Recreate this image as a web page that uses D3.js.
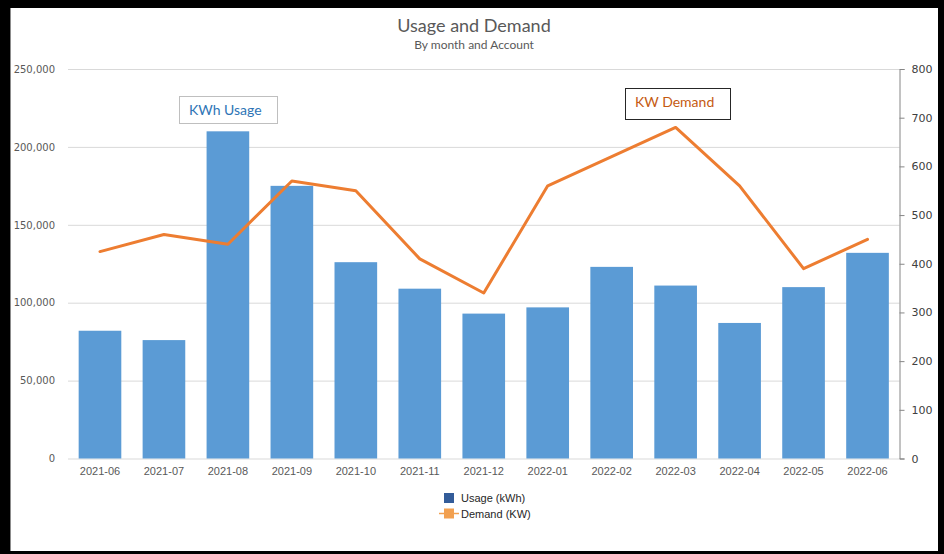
<!DOCTYPE html>
<html>
<head>
<meta charset="utf-8">
<script src="https://cdn.jsdelivr.net/npm/d3@7"></script>
<style>
  html, body { margin: 0; padding: 0; background: #000; }
  svg { display: block; }
</style>
</head>
<body>
<svg id="chart" width="944" height="554"></svg>
<script>
// Monthly usage (kWh, left axis) and peak demand (KW, right axis)
const months = ["2021-06","2021-07","2021-08","2021-09","2021-10","2021-11","2021-12",
                "2022-01","2022-02","2022-03","2022-04","2022-05","2022-06"];
const usage  = [82000, 76000, 210000, 175000, 126000, 109000, 93000,
                97000, 123000, 111000, 87000, 110000, 132000];
const demand = [425, 460, 440, 570, 550, 410, 340, 560, 620, 680, 560, 390, 450];
const usageTicks  = [0, 50000, 100000, 150000, 200000, 250000];
const demandTicks = [0, 100, 200, 300, 400, 500, 600, 700, 800];
const seriesNames = ["Usage (kWh)", "Demand (KW)"];

const svg = d3.select("#chart");
const W = 944, H = 554;

// white chart area inside the black frame
svg.append("rect").attr("x", 0).attr("y", 0).attr("width", W).attr("height", H).attr("fill", "#000");
svg.append("rect").attr("x", 10).attr("y", 8).attr("width", 928).attr("height", 543).attr("fill", "#fff");
svg.append("line").attr("x1", 10.5).attr("x2", 10.5).attr("y1", 8).attr("y2", 551)
  .attr("stroke", "#8c8c8c").attr("stroke-width", 1);

const plot = { left: 68, right: 899.5, top: 69, bottom: 458.5 };

const x = d3.scaleBand().domain(months).range([plot.left, plot.right])
  .paddingInner(1 / 3).paddingOuter(1 / 6);
const yL = d3.scaleLinear().domain([0, 250000]).range([plot.bottom, plot.top]);
const yR = d3.scaleLinear().domain([0, 800]).range([plot.bottom, plot.top]);

const labelFont = "'DejaVu Sans', Verdana, sans-serif";
const textGrey = "#595959";

// gridlines
svg.append("g")
  .attr("transform", `translate(${plot.left},0)`)
  .call(d3.axisLeft(yL).tickValues(usageTicks).tickSize(-(plot.right - plot.left)).tickFormat(""))
  .call(g => g.select(".domain").remove())
  .call(g => g.selectAll("line").attr("stroke", "#d9d9d9").attr("stroke-width", 1));

// left axis labels
svg.append("g")
  .attr("transform", `translate(${plot.left},0)`)
  .call(d3.axisLeft(yL).tickValues(usageTicks).tickSize(0).tickPadding(13).tickFormat(d3.format(",")))
  .call(g => g.select(".domain").remove())
  .call(g => g.selectAll("text").attr("fill", textGrey).style("font-family", labelFont).style("font-size", "10px"));

// bars
svg.append("g").selectAll("rect")
  .data(months)
  .join("rect")
  .attr("x", d => x(d))
  .attr("width", x.bandwidth())
  .attr("y", (d, i) => yL(usage[i]))
  .attr("height", (d, i) => yL(0) - yL(usage[i]))
  .attr("fill", "#5b9bd5");

// demand line
const line = d3.line()
  .x((d, i) => x(months[i]) + x.bandwidth() / 2)
  .y(d => yR(d));
svg.append("path")
  .datum(demand)
  .attr("d", line)
  .attr("fill", "none")
  .attr("stroke", "#ed7d31")
  .attr("stroke-width", 3)
  .attr("stroke-linejoin", "round")
  .attr("stroke-linecap", "round");

// right axis
svg.append("g")
  .attr("transform", `translate(${plot.right},0)`)
  .call(d3.axisRight(yR).tickValues(demandTicks).tickSize(5).tickSizeOuter(5).tickPadding(7))
  .call(g => g.select(".domain").attr("stroke", "#868686"))
  .call(g => g.selectAll(".tick line").attr("stroke", "#868686"))
  .call(g => g.selectAll("text").attr("fill", "#404040").style("font-family", labelFont).style("font-size", "11px"));

// category axis
svg.append("g")
  .attr("transform", `translate(0,${plot.bottom})`)
  .call(d3.axisBottom(x).tickSize(0).tickPadding(9))
  .call(g => g.select(".domain").remove())
  .call(g => g.selectAll("text").attr("fill", textGrey)
    .style("font-family", "'Liberation Sans', Arial, sans-serif").style("font-size", "11px"));

// titles
svg.append("text").attr("x", 474).attr("y", 32).attr("text-anchor", "middle")
  .attr("fill", textGrey).style("font-family", "Lato, 'Open Sans', sans-serif").style("font-size", "18px")
  .text("Usage and Demand");
svg.append("text").attr("x", 474).attr("y", 49).attr("text-anchor", "middle")
  .attr("fill", textGrey).style("font-family", "Lato, 'Open Sans', sans-serif").style("font-size", "12px")
  .text("By month and Account");

// callout boxes
svg.append("rect").attr("x", 179.5).attr("y", 96.5).attr("width", 98).attr("height", 27)
  .attr("fill", "#fff").attr("stroke", "#bfbfbf");
svg.append("text").attr("x", 189).attr("y", 114.5)
  .attr("fill", "#2e75b6").style("font-family", "Lato, 'Open Sans', sans-serif").style("font-size", "14px")
  .text("KWh Usage");
svg.append("rect").attr("x", 625.5).attr("y", 88.5).attr("width", 105).attr("height", 31)
  .attr("fill", "#fff").attr("stroke", "#262626");
svg.append("text").attr("x", 635).attr("y", 107)
  .attr("fill", "#c55a11").style("font-family", "Lato, 'Open Sans', sans-serif").style("font-size", "14px")
  .text("KW Demand");

// legend
const legend = svg.append("g").style("font-family", "'Liberation Sans', Arial, sans-serif").style("font-size", "11px");
legend.append("rect").attr("x", 444).attr("y", 493).attr("width", 10).attr("height", 10).attr("fill", "#335c99");
legend.append("text").attr("x", 461).attr("y", 502).attr("fill", "#262626").text(seriesNames[0]);
legend.append("line").attr("x1", 439).attr("x2", 459).attr("y1", 513.5).attr("y2", 513.5)
  .attr("stroke", "#f2a050").attr("stroke-width", 1.5);
legend.append("rect").attr("x", 444).attr("y", 508.5).attr("width", 10).attr("height", 10).attr("fill", "#f2a050");
legend.append("text").attr("x", 461).attr("y", 518).attr("fill", "#262626").text(seriesNames[1]);
</script>
</body>
</html>
